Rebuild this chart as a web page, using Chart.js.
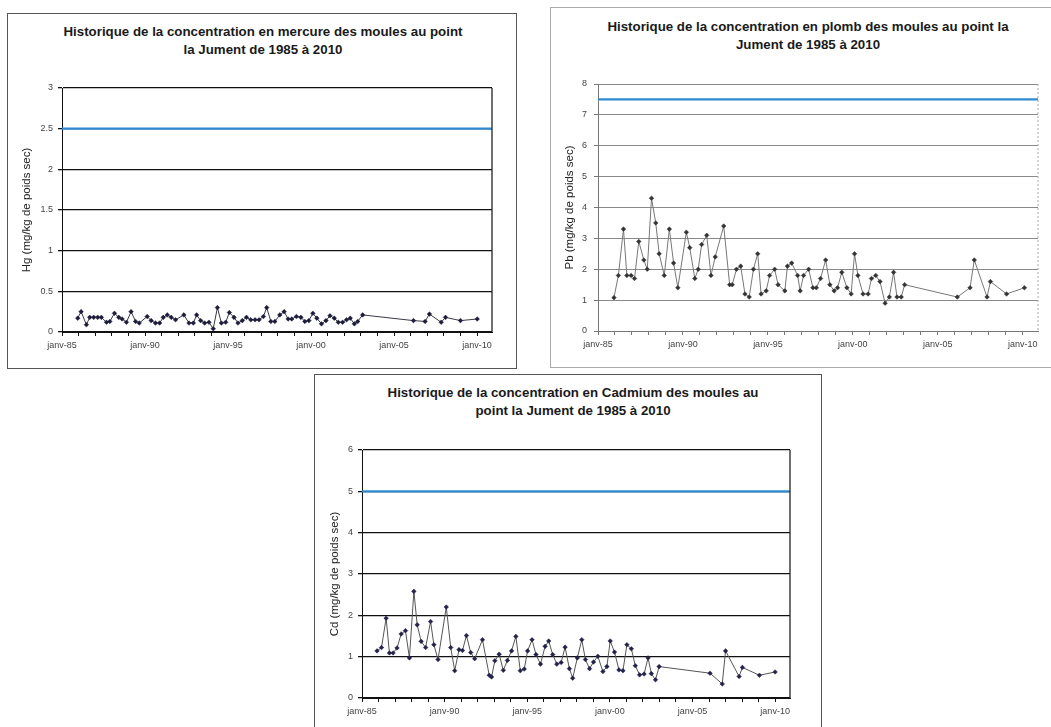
<!DOCTYPE html>
<html>
<head>
<meta charset="utf-8">
<script src="https://cdn.jsdelivr.net/npm/chart.js@4.4.1/dist/chart.umd.min.js"></script>
<style>
  body { margin: 0; background: #fff; width: 1051px; height: 727px; overflow: hidden; position: relative; }
  .box { position: absolute; box-sizing: border-box; }
  canvas { position: absolute; }
  .title { position: absolute; width: 600px; text-align: center; font: bold 13.3px "Liberation Sans", Arial, sans-serif;
           line-height: 18px; color: #1a1a1a; white-space: nowrap; }
</style>
</head>
<body>
<div class="box" style="left:7px;top:13px;width:510px;height:356px;border:1px solid #555;"></div>
<div class="box" style="left:550px;top:7px;width:520px;height:361px;border:1px solid #aaa;"></div>
<div class="box" style="left:314px;top:374px;width:508px;height:360px;border:1px solid #555;"></div>

<div class="title" style="left:-37px;top:23px">Historique de la concentration en mercure des moules au point<br>la Jument de 1985 à 2010</div>
<div class="title" style="left:508px;top:18px">Historique de la concentration en plomb des moules au point la<br>Jument de 1985 à 2010</div>
<div class="title" style="left:273px;top:384px">Historique de la concentration en Cadmium des moules au<br>point la Jument de 1985 à 2010</div>

<canvas id="hgChart" width="509" height="355" style="left:7px;top:13px"></canvas>
<canvas id="pbChart" width="516" height="360" style="left:550px;top:7px"></canvas>
<canvas id="cdChart" width="519" height="353" style="left:314px;top:374px"></canvas>

<script>
// shared x axis (decimal years)
const xStart = 1985;
const xEnd = 2010.9;
const xTickYears = [1985, 1990, 1995, 2000, 2005, 2010];
const xTickLabels = ['janv-85', 'janv-90', 'janv-95', 'janv-00', 'janv-05', 'janv-10'];

// mercure
const hgYears = [1985.95, 1986.15, 1986.47, 1986.67, 1986.91, 1987.15, 1987.37, 1987.68, 1987.88, 1988.16,
  1988.42, 1988.62, 1988.88, 1989.16, 1989.43, 1989.65, 1990.13, 1990.37, 1990.63, 1990.88,
  1991.10, 1991.34, 1991.58, 1991.84, 1992.34, 1992.65, 1992.91, 1993.11, 1993.35, 1993.59,
  1993.85, 1994.11, 1994.36, 1994.60, 1994.86, 1995.08, 1995.36, 1995.60, 1995.86, 1996.11,
  1996.37, 1996.63, 1996.87, 1997.13, 1997.33, 1997.58, 1997.82, 1998.12, 1998.38, 1998.62,
  1998.84, 1999.12, 1999.39, 1999.63, 1999.87, 2000.11, 2000.35, 2000.63, 2000.90, 2001.14,
  2001.40, 2001.64, 2001.90, 2002.14, 2002.36, 2002.61, 2002.81, 2003.11, 2006.17, 2006.87,
  2007.13, 2007.84, 2008.10, 2009.00, 2010.01];
const hgValues = [0.17, 0.25, 0.09, 0.18, 0.18, 0.18, 0.18, 0.12, 0.13, 0.23,
  0.18, 0.16, 0.12, 0.25, 0.13, 0.11, 0.19, 0.14, 0.11, 0.11,
  0.18, 0.21, 0.18, 0.15, 0.21, 0.11, 0.11, 0.21, 0.14, 0.11,
  0.12, 0.04, 0.30, 0.11, 0.12, 0.24, 0.18, 0.11, 0.14, 0.18,
  0.15, 0.15, 0.15, 0.19, 0.30, 0.13, 0.13, 0.21, 0.25, 0.16,
  0.16, 0.19, 0.18, 0.13, 0.14, 0.23, 0.17, 0.10, 0.14, 0.20,
  0.17, 0.12, 0.12, 0.15, 0.17, 0.10, 0.13, 0.21, 0.14, 0.13,
  0.22, 0.12, 0.18, 0.14, 0.16];
const hgLimit = 2.5;
const hgYTicks = [0, 0.5, 1, 1.5, 2, 2.5, 3];

// plomb
const pbYears = [1985.94, 1986.2, 1986.5, 1986.7, 1986.95, 1987.15, 1987.4, 1987.7, 1987.9, 1988.15,
  1988.4, 1988.6, 1988.9, 1989.2, 1989.45, 1989.7, 1990.2, 1990.4, 1990.7, 1990.9,
  1991.1, 1991.4, 1991.65, 1991.9, 1992.4, 1992.75, 1992.9, 1993.15, 1993.4, 1993.65,
  1993.9, 1994.15, 1994.4, 1994.6, 1994.9, 1995.1, 1995.4, 1995.6, 1996.0, 1996.15,
  1996.4, 1996.75, 1996.9, 1997.1, 1997.4, 1997.65, 1997.85, 1998.1, 1998.4, 1998.65,
  1998.9, 1999.1, 1999.35, 1999.65, 1999.9, 2000.1, 2000.3, 2000.6, 2000.9, 2001.1,
  2001.35, 2001.6, 2001.9, 2002.15, 2002.4, 2002.6, 2002.85, 2003.05, 2006.15, 2006.9,
  2007.15, 2007.9, 2008.1, 2009.05, 2010.1];
const pbValues = [1.08, 1.8, 3.3, 1.8, 1.8, 1.7, 2.9, 2.3, 2.0, 4.3,
  3.5, 2.5, 1.8, 3.3, 2.2, 1.4, 3.2, 2.7, 1.7, 2.0,
  2.8, 3.1, 1.8, 2.4, 3.4, 1.5, 1.5, 2.0, 2.1, 1.2,
  1.1, 2.0, 2.5, 1.2, 1.3, 1.8, 2.0, 1.5, 1.3, 2.1,
  2.2, 1.8, 1.3, 1.8, 2.0, 1.4, 1.4, 1.7, 2.3, 1.5,
  1.3, 1.4, 1.9, 1.4, 1.2, 2.5, 1.8, 1.2, 1.2, 1.7,
  1.8, 1.6, 0.9, 1.1, 1.9, 1.1, 1.1, 1.5, 1.1, 1.4,
  2.3, 1.1, 1.6, 1.2, 1.4];
const pbLimit = 7.5;
const pbYTicks = [0, 1, 2, 3, 4, 5, 6, 7, 8];

// cadmium
const cdYears = [1985.91, 1986.18, 1986.46, 1986.66, 1986.88, 1987.12, 1987.37, 1987.63, 1987.87, 1988.14,
  1988.34, 1988.58, 1988.85, 1989.15, 1989.35, 1989.6, 1990.1, 1990.37, 1990.61, 1990.87,
  1991.08, 1991.32, 1991.58, 1991.82, 1992.29, 1992.7, 1992.84, 1993.04, 1993.3, 1993.55,
  1993.8, 1994.05, 1994.31, 1994.58, 1994.82, 1995.02, 1995.29, 1995.53, 1995.8, 1996.08,
  1996.3, 1996.54, 1996.79, 1997.05, 1997.29, 1997.55, 1997.75, 1998.03, 1998.3, 1998.52,
  1998.77, 1999.01, 1999.27, 1999.58, 1999.82, 2000.02, 2000.28, 2000.55, 2000.79, 2001.03,
  2001.3, 2001.54, 2001.8, 2002.07, 2002.31, 2002.51, 2002.76, 2002.98, 2006.06, 2006.8,
  2007.0, 2007.82, 2008.02, 2009.05, 2010.0];
const cdValues = [1.14, 1.22, 1.93, 1.09, 1.09, 1.21, 1.55, 1.63, 0.97, 2.58,
  1.77, 1.37, 1.22, 1.85, 1.29, 0.93, 2.20, 1.22, 0.66, 1.17,
  1.15, 1.51, 1.10, 0.95, 1.41, 0.55, 0.51, 0.90, 1.06, 0.67,
  0.91, 1.14, 1.49, 0.66, 0.70, 1.14, 1.41, 1.05, 0.82, 1.25,
  1.38, 1.05, 0.82, 0.86, 1.23, 0.71, 0.48, 0.97, 1.41, 0.93,
  0.71, 0.87, 1.01, 0.64, 0.76, 1.38, 1.11, 0.68, 0.66, 1.29,
  1.19, 0.78, 0.56, 0.58, 0.97, 0.59, 0.44, 0.76, 0.60, 0.34,
  1.14, 0.52, 0.74, 0.55, 0.63];
const cdLimit = 5;
const cdYTicks = [0, 1, 2, 3, 4, 5, 6];

const FONT = '"Liberation Sans", Arial, sans-serif';

// right-hand border of the plot area, like the Excel frame
const plotFrame = {
  id: 'plotFrame',
  afterDatasetsDraw(chart, args, opts) {
    const { ctx, chartArea: a } = chart;
    ctx.save();
    ctx.strokeStyle = opts.color;
    ctx.lineWidth = opts.width;
    if (opts.dash) ctx.setLineDash(opts.dash);
    ctx.beginPath();
    ctx.moveTo(a.right, a.top);
    ctx.lineTo(a.right, a.bottom);
    ctx.stroke();
    ctx.restore();
  }
};

function makeChart(id, c) {
  const yearTicks = [];
  for (let y = xStart; y <= Math.floor(xEnd); y++) yearTicks.push(y);

  return new Chart(document.getElementById(id), {
    type: 'line',
    data: {
      datasets: [{
        data: c.years.map((x, i) => ({ x, y: c.values[i] })),
        borderColor: c.lineColor,
        borderWidth: 1,
        pointStyle: 'rectRot',
        pointRadius: 2.3,
        pointBackgroundColor: c.pointColor,
        pointBorderColor: c.pointColor,
        pointBorderWidth: 0.5,
        tension: 0
      }, {
        data: [{ x: xStart, y: c.limit }, { x: xEnd, y: c.limit }],
        borderColor: '#2f8ad2',
        borderWidth: 2.2,
        pointRadius: 0
      }]
    },
    options: {
      responsive: false,
      animation: false,
      devicePixelRatio: 1,
      layout: { padding: { left: 0, right: c.padRight, top: c.padTop, bottom: 0 } },
      plugins: {
        legend: { display: false },
        tooltip: { enabled: false },
        plotFrame: c.frame
      },
      scales: {
        x: {
          type: 'linear',
          min: xStart,
          max: xEnd,
          afterBuildTicks: s => { s.ticks = yearTicks.map(v => ({ value: v })); },
          afterFit: s => { s.height = c.xHeight; },
          border: { color: c.axisColor, width: 1 },
          grid: { drawOnChartArea: false, drawTicks: true, tickLength: 4, color: c.axisColor },
          ticks: {
            autoSkip: false,
            maxRotation: 0,
            padding: 4,
            color: '#444',
            font: { family: FONT, size: 9 },
            callback: v => {
              const i = xTickYears.indexOf(v);
              return i >= 0 ? xTickLabels[i] : '';
            }
          }
        },
        y: {
          min: c.yTicks[0],
          max: c.yTicks[c.yTicks.length - 1],
          afterBuildTicks: s => { s.ticks = c.yTicks.map(v => ({ value: v })); },
          afterFit: s => { s.width = c.yWidth; },
          border: { color: c.axisColor, width: 1 },
          grid: { color: c.gridColor, lineWidth: c.gridWidth, tickLength: 4, tickColor: c.axisColor },
          ticks: {
            padding: c.yTickPad,
            color: '#444',
            font: { family: FONT, size: 9 },
            callback: v => String(v)
          },
          title: {
            display: true,
            text: c.yTitle,
            color: '#222',
            font: { family: FONT, size: 11.5 },
            padding: { top: c.yTitlePad, bottom: 0 }
          }
        }
      }
    },
    plugins: [plotFrame]
  });
}

makeChart('hgChart', {
  years: hgYears, values: hgValues, limit: hgLimit, yTicks: hgYTicks,
  yTitle: 'Hg (mg/kg de poids sec)',
  padTop: 75, padRight: 24, xHeight: 36, yWidth: 55, yTickPad: 5, yTitlePad: 13,
  lineColor: '#3a3a4a', pointColor: '#1c1c3a', axisColor: '#111', gridColor: '#111', gridWidth: 1.3,
  frame: { color: '#222', width: 1.3 }
});

makeChart('pbChart', {
  years: pbYears, values: pbValues, limit: pbLimit, yTicks: pbYTicks,
  yTitle: 'Pb (mg/kg de poids sec)',
  padTop: 77, padRight: 28, xHeight: 36, yWidth: 48, yTickPad: 7, yTitlePad: 13,
  lineColor: '#777', pointColor: '#333', axisColor: '#777', gridColor: '#8a8a8a', gridWidth: 1,
  frame: { color: '#aaa', width: 1, dash: [2, 2] }
});

makeChart('cdChart', {
  years: cdYears, values: cdValues, limit: cdLimit, yTicks: cdYTicks,
  yTitle: 'Cd (mg/kg de poids sec)',
  padTop: 76, padRight: 43, xHeight: 29, yWidth: 48, yTickPad: 5, yTitlePad: 14,
  lineColor: '#555', pointColor: '#22224a', axisColor: '#111', gridColor: '#111', gridWidth: 1.3,
  frame: { color: '#222', width: 1.3 }
});
</script>
</body>
</html>
